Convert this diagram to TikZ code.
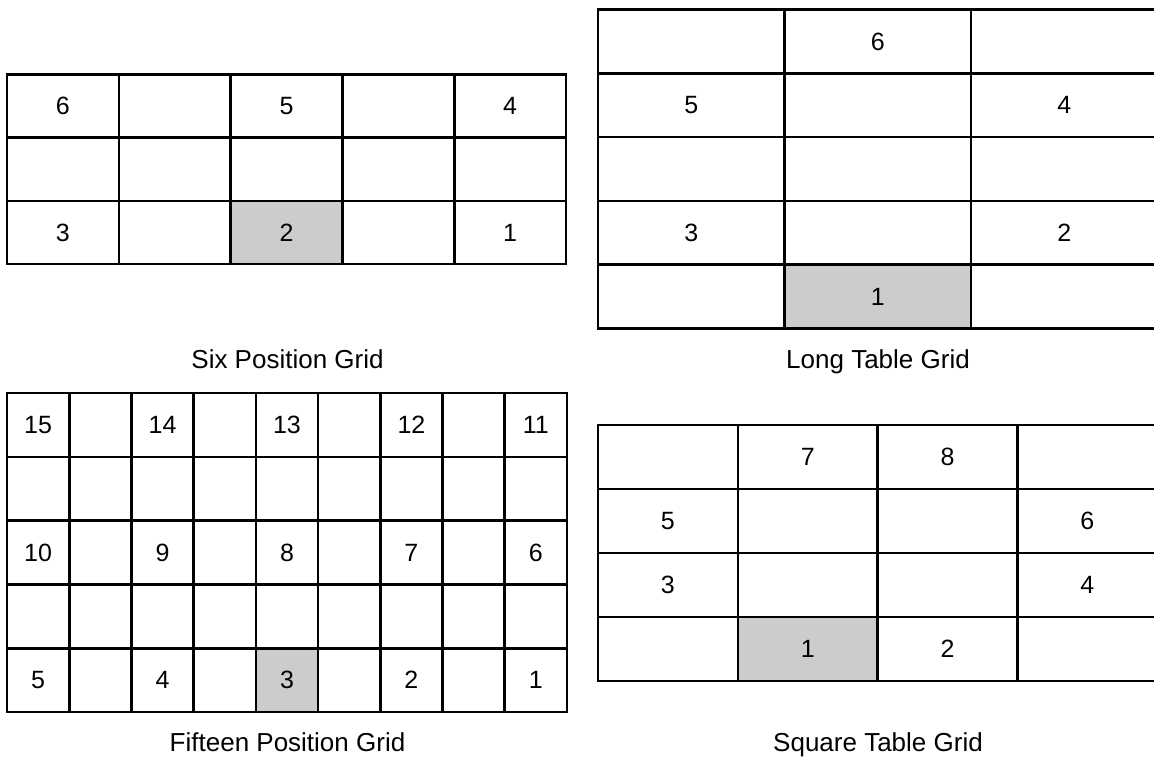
\documentclass[tikz,border=0pt]{standalone}
\usepackage{fontspec}
\setmainfont{Liberation Sans}
\definecolor{shadegray}{HTML}{CCCCCC}
\tikzset{
  cell/.style={draw=black, line width=2.6pt, rectangle, inner sep=0pt, outer sep=0pt},
  num/.style={font=\fontsize{25}{30}\selectfont, inner sep=0pt},
  caption/.style={font=\fontsize{26}{31}\selectfont, inner sep=0pt, anchor=base}
}
\begin{document}
\begin{tikzpicture}[x=1pt,y=-1pt]
\useasboundingbox (0,0) rectangle (1154,759);
% ---------- Six Position Grid ----------
\foreach \r in {0,1,2} \foreach \c in {0,...,4} {
  \ifnum\r=2 \ifnum\c=2 \def\f{shadegray}\else\def\f{none}\fi\else\def\f{none}\fi
  \node[cell, fill=\f, minimum width=111.8pt, minimum height=63.2pt]
    (six-\r-\c) at ({7+111.8*(\c+0.5)},{74.5+63.2*(\r+0.5)}) {};
}
\foreach \r/\c/\t in {0/0/6,0/2/5,0/4/4,2/0/3,2/2/2,2/4/1}
  \node[num] (six-n-\r-\c) at (six-\r-\c) {\t};
\node[caption] (six-cap) at (287.5,368) {Six Position Grid};
% ---------- Long Table Grid ----------
\foreach \r in {0,...,4} \foreach \c in {0,1,2} {
  \ifnum\r=4 \ifnum\c=1 \def\f{shadegray}\else\def\f{none}\fi\else\def\f{none}\fi
  \node[cell, fill=\f, minimum width=186.5pt, minimum height=63.8pt]
    (long-\r-\c) at ({598+186.5*(\c+0.5)},{9.5+63.8*(\r+0.5)}) {};
}
\foreach \r/\c/\t in {0/1/6,1/0/5,1/2/4,3/0/3,3/2/2,4/1/1}
  \node[num] (long-n-\r-\c) at (long-\r-\c) {\t};
\node[caption] (long-cap) at (878,368) {Long Table Grid};
% ---------- Fifteen Position Grid ----------
\foreach \r in {0,...,4} \foreach \c in {0,...,8} {
  \ifnum\r=4 \ifnum\c=4 \def\f{shadegray}\else\def\f{none}\fi\else\def\f{none}\fi
  \node[cell, fill=\f, minimum width=62.22pt, minimum height=63.8pt]
    (fif-\r-\c) at ({7+62.22*(\c+0.5)},{393+63.8*(\r+0.5)}) {};
}
\foreach \r/\c/\t in {0/0/15,0/2/14,0/4/13,0/6/12,0/8/11,
                      2/0/10,2/2/9,2/4/8,2/6/7,2/8/6,
                      4/0/5,4/2/4,4/4/3,4/6/2,4/8/1}
  \node[num] (fif-n-\r-\c) at (fif-\r-\c) {\t};
\node[caption] (fif-cap) at (287.5,751) {Fifteen Position Grid};
% ---------- Square Table Grid ----------
\foreach \r in {0,...,3} \foreach \c in {0,...,3} {
  \ifnum\r=3 \ifnum\c=1 \def\f{shadegray}\else\def\f{none}\fi\else\def\f{none}\fi
  \node[cell, fill=\f, minimum width=139.8pt, minimum height=64pt]
    (sq-\r-\c) at ({598+139.8*(\c+0.5)},{425+64*(\r+0.5)}) {};
}
\foreach \r/\c/\t in {0/1/7,0/2/8,1/0/5,1/3/6,2/0/3,2/3/4,3/1/1,3/2/2}
  \node[num] (sq-n-\r-\c) at (sq-\r-\c) {\t};
\node[caption] (sq-cap) at (878,751) {Square Table Grid};
\end{tikzpicture}
\end{document}
